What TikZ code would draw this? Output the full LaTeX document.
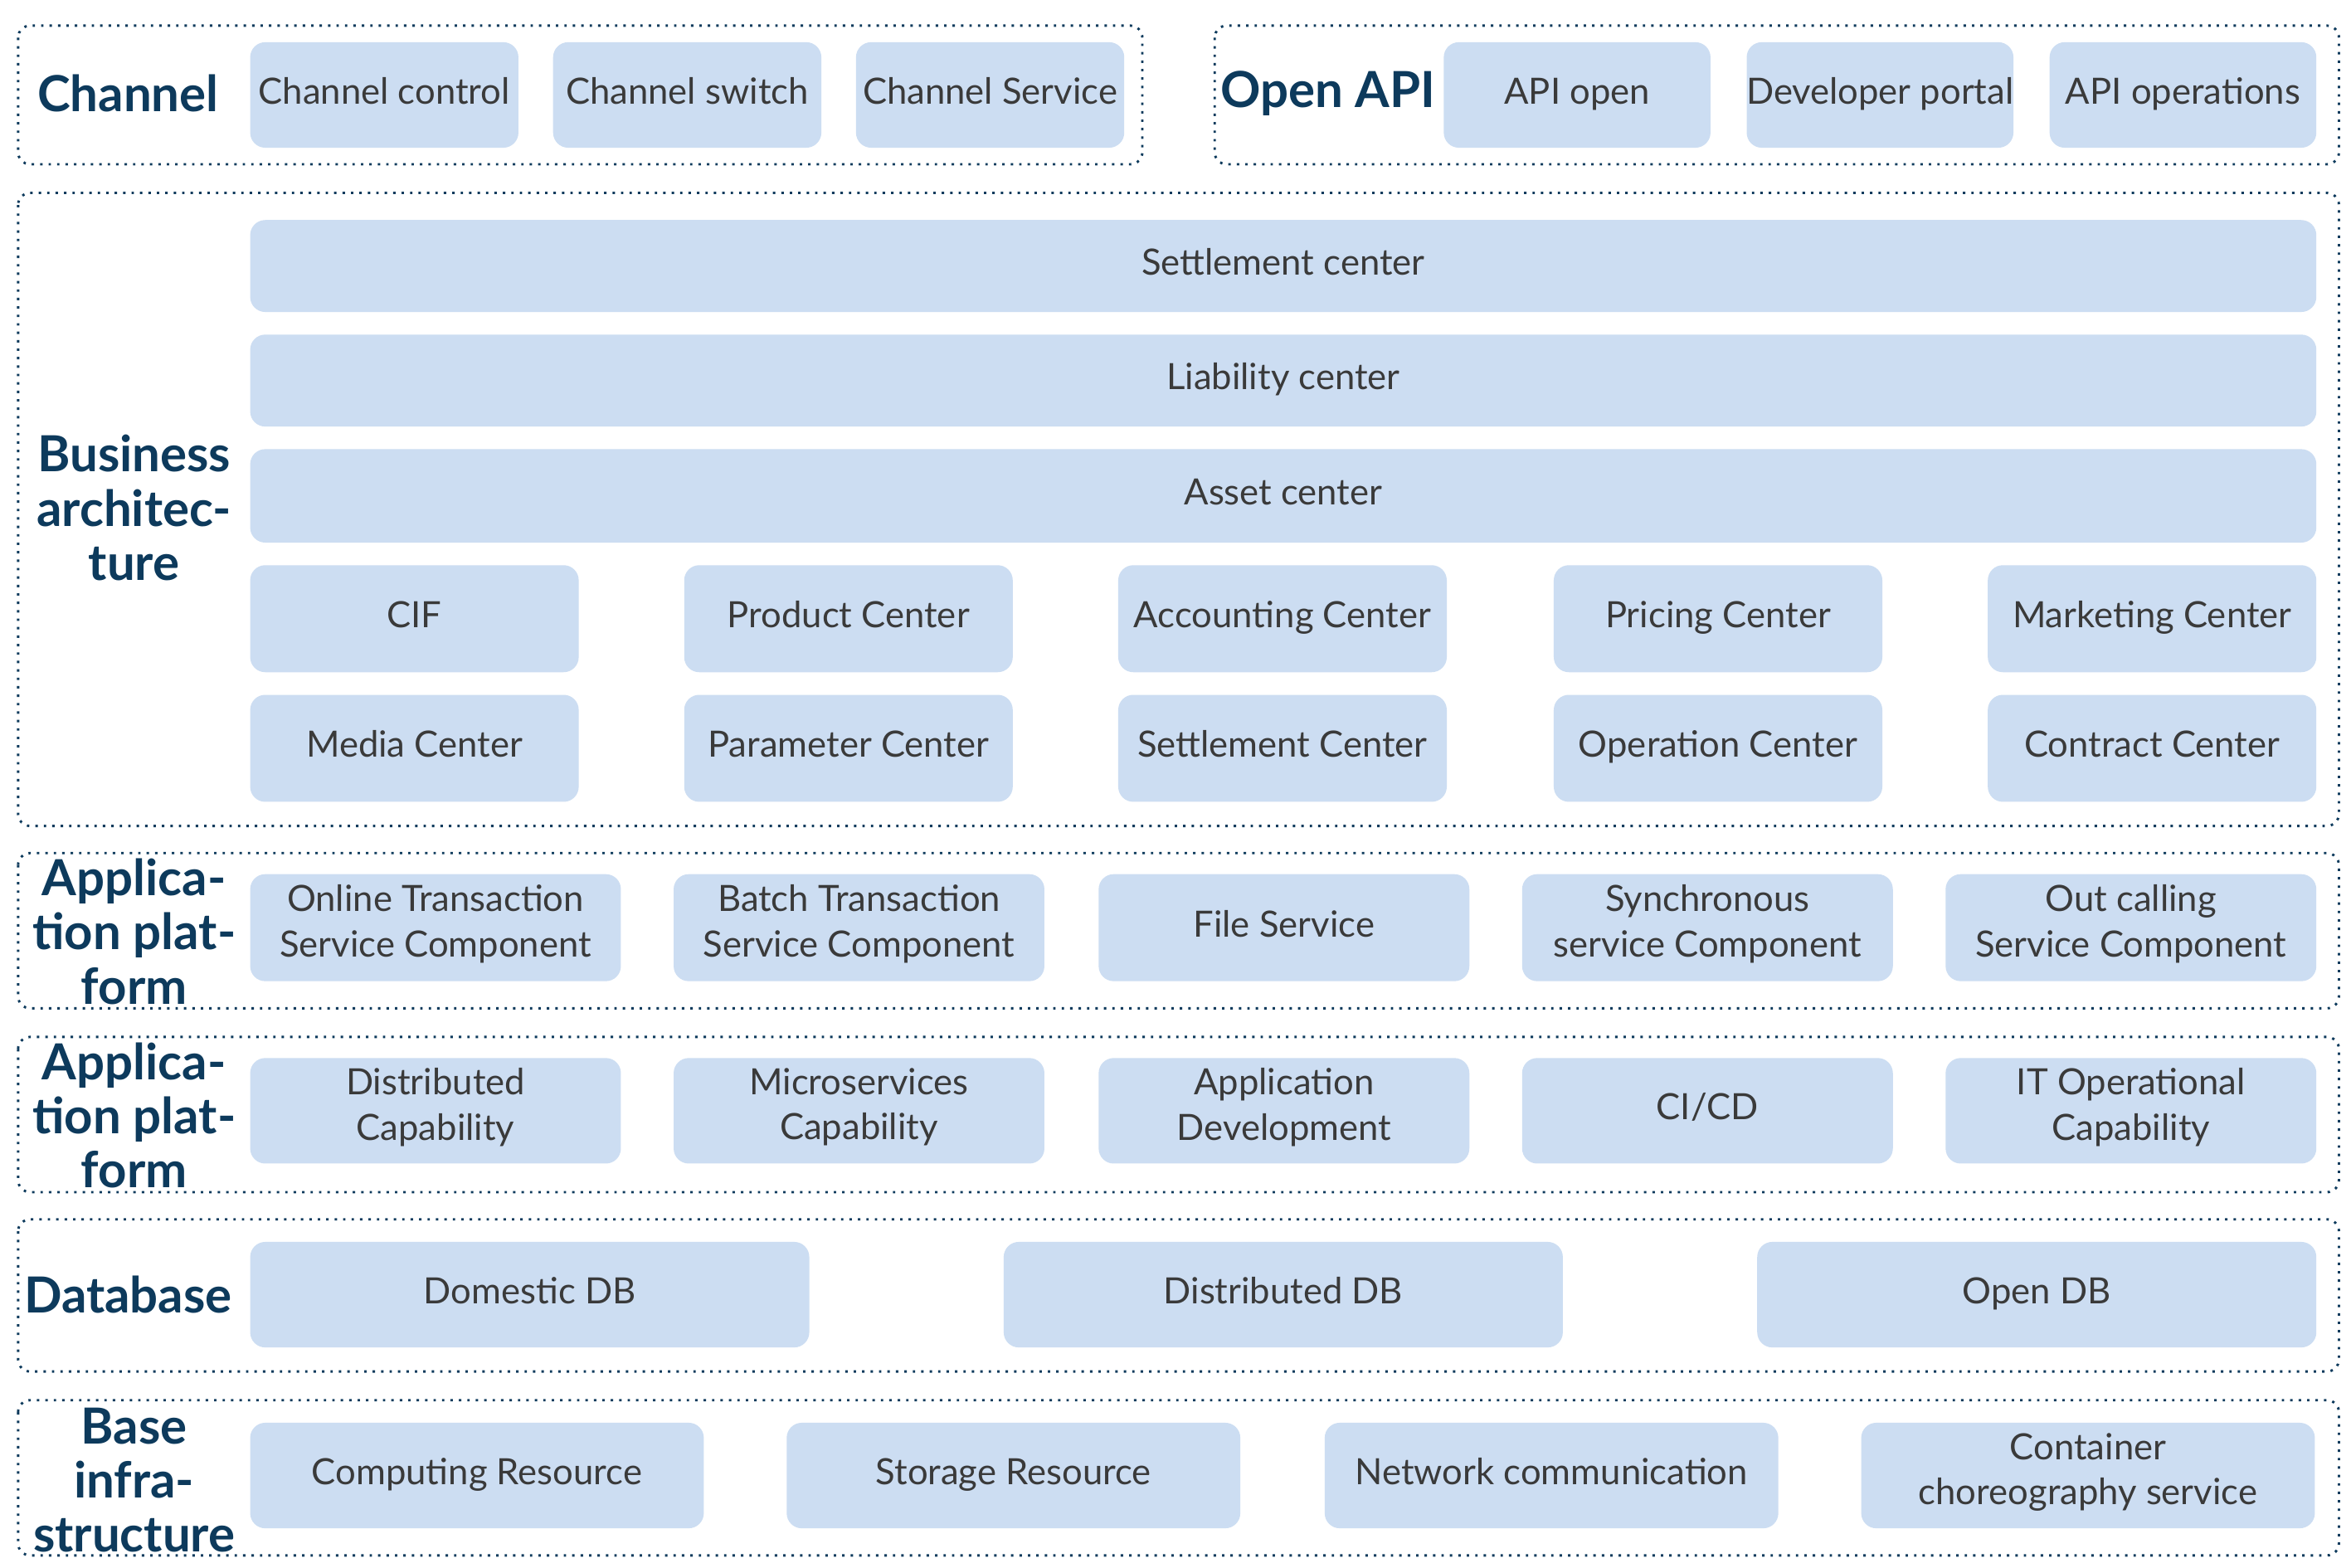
\documentclass[tikz,border=0pt]{standalone}
\usepackage{fontspec}
\setmainfont{Lato}
\definecolor{boxblue}{HTML}{CCDDF2}
\definecolor{navy}{HTML}{0D3A5C}
\definecolor{txtgray}{HTML}{3A3A3A}
\tikzset{
  boxfill/.style={fill=boxblue,rounded corners=5pt},
  frame/.style={draw=navy,dotted,line width=0.8pt,rounded corners=4pt},
  boxtext/.style={text=txtgray,align=center,font=\fontsize{12}{15}\selectfont,
    execute at begin node=\strut},
  layer/.style={text=navy,align=center,font=\bfseries\fontsize{16.5}{18}\selectfont}
}
% box: name, x1, y1, x2, y2, text
\newcommand\bx[6]{%
  \path[boxfill] (#2,#3) rectangle (#4,#5);
  \node[boxtext] (#1) at ({(#2+#4)/2},{(#3+#5)/2}) {#6};}
\begin{document}
\begin{tikzpicture}[x=0.5pt,y=-0.5pt]
\useasboundingbox[fill=white] (0,0) rectangle (1560,1040);

%Channel / Open API
\draw[frame] (12,17) rectangle (758,109);
\draw[frame] (806,17) rectangle (1552,109);
\node[layer] (channel) at (85,62) {Channel};
\node[layer] (openapi) at (881,62) {Open API};
\bx{chctrl}{166}{28}{344}{98}{Channel control}
\bx{chswitch}{367}{28}{545}{98}{Channel switch}
\bx{chserv}{568}{28}{746}{98}{Channel Service}
\bx{apiopen}{958}{28}{1135}{98}{API open}
\bx{devportal}{1159}{28}{1336}{98}{Developer portal}
\bx{apiops}{1360}{28}{1537}{98}{API operations}

%Business architecture
\draw[frame] (12,128) rectangle (1552,548);
\node[layer] (business) at (89,337) {Business\\architec-\\ture};
\bx{settle}{166}{146}{1537}{207}{Settlement center}
\bx{liab}{166}{222}{1537}{283}{Liability center}
\bx{asset}{166}{298}{1537}{360}{Asset center}
\bx{cif}{166}{375}{384}{446}{CIF}
\bx{product}{454}{375}{672}{446}{Product Center}
\bx{account}{742}{375}{960}{446}{Accounting Center}
\bx{pricing}{1031}{375}{1249}{446}{Pricing Center}
\bx{marketing}{1319}{375}{1537}{446}{Marketing Center}
\bx{media}{166}{461}{384}{532}{Media Center}
\bx{param}{454}{461}{672}{532}{Parameter Center}
\bx{settlec}{742}{461}{960}{532}{Settlement Center}
\bx{operation}{1031}{461}{1249}{532}{Operation Center}
\bx{contract}{1319}{461}{1537}{532}{Contract Center}

%Application platform 1
\draw[frame] (12,566) rectangle (1552,669);
\node[layer] (appa) at (89,618) {Applica-\\tion plat-\\form};
\bx{online}{166}{580}{412}{651}{Online Transaction\\Service Component}
\bx{batch}{447}{580}{693}{651}{Batch Transaction\\Service Component}
\bx{file}{729}{580}{975}{651}{File Service}
\bx{sync}{1010}{580}{1256}{651}{Synchronous\\service Component}
\bx{outcall}{1291}{580}{1537}{651}{Out calling\\Service Component}

%Application platform 2
\draw[frame] (12,688) rectangle (1552,791);
\node[layer] (appb) at (89,740) {Applica-\\tion plat-\\form};
\bx{distcap}{166}{702}{412}{772}{Distributed\\Capability}
\bx{micro}{447}{702}{693}{772}{Microservices\\Capability}
\bx{appdev}{729}{702}{975}{772}{Application\\Development}
\bx{cicd}{1010}{702}{1256}{772}{CI/CD}
\bx{itops}{1291}{702}{1537}{772}{IT Operational\\Capability}

%Database
\draw[frame] (12,809) rectangle (1552,910);
\node[layer] (database) at (85,859) {Database};
\bx{domdb}{166}{824}{537}{894}{Domestic DB}
\bx{distdb}{666}{824}{1037}{894}{Distributed DB}
\bx{opendb}{1166}{824}{1537}{894}{Open DB}

%Base infrastructure
\draw[frame] (12,929) rectangle (1552,1032);
\node[layer] (base) at (89,982) {Base\\infra-\\structure};
\bx{compute}{166}{944}{467}{1014}{Computing Resource}
\bx{storage}{522}{944}{823}{1014}{Storage Resource}
\bx{network}{879}{944}{1180}{1014}{Network communication}
\bx{container}{1235}{944}{1536}{1014}{Container\\choreography service}
\end{tikzpicture}
\end{document}
